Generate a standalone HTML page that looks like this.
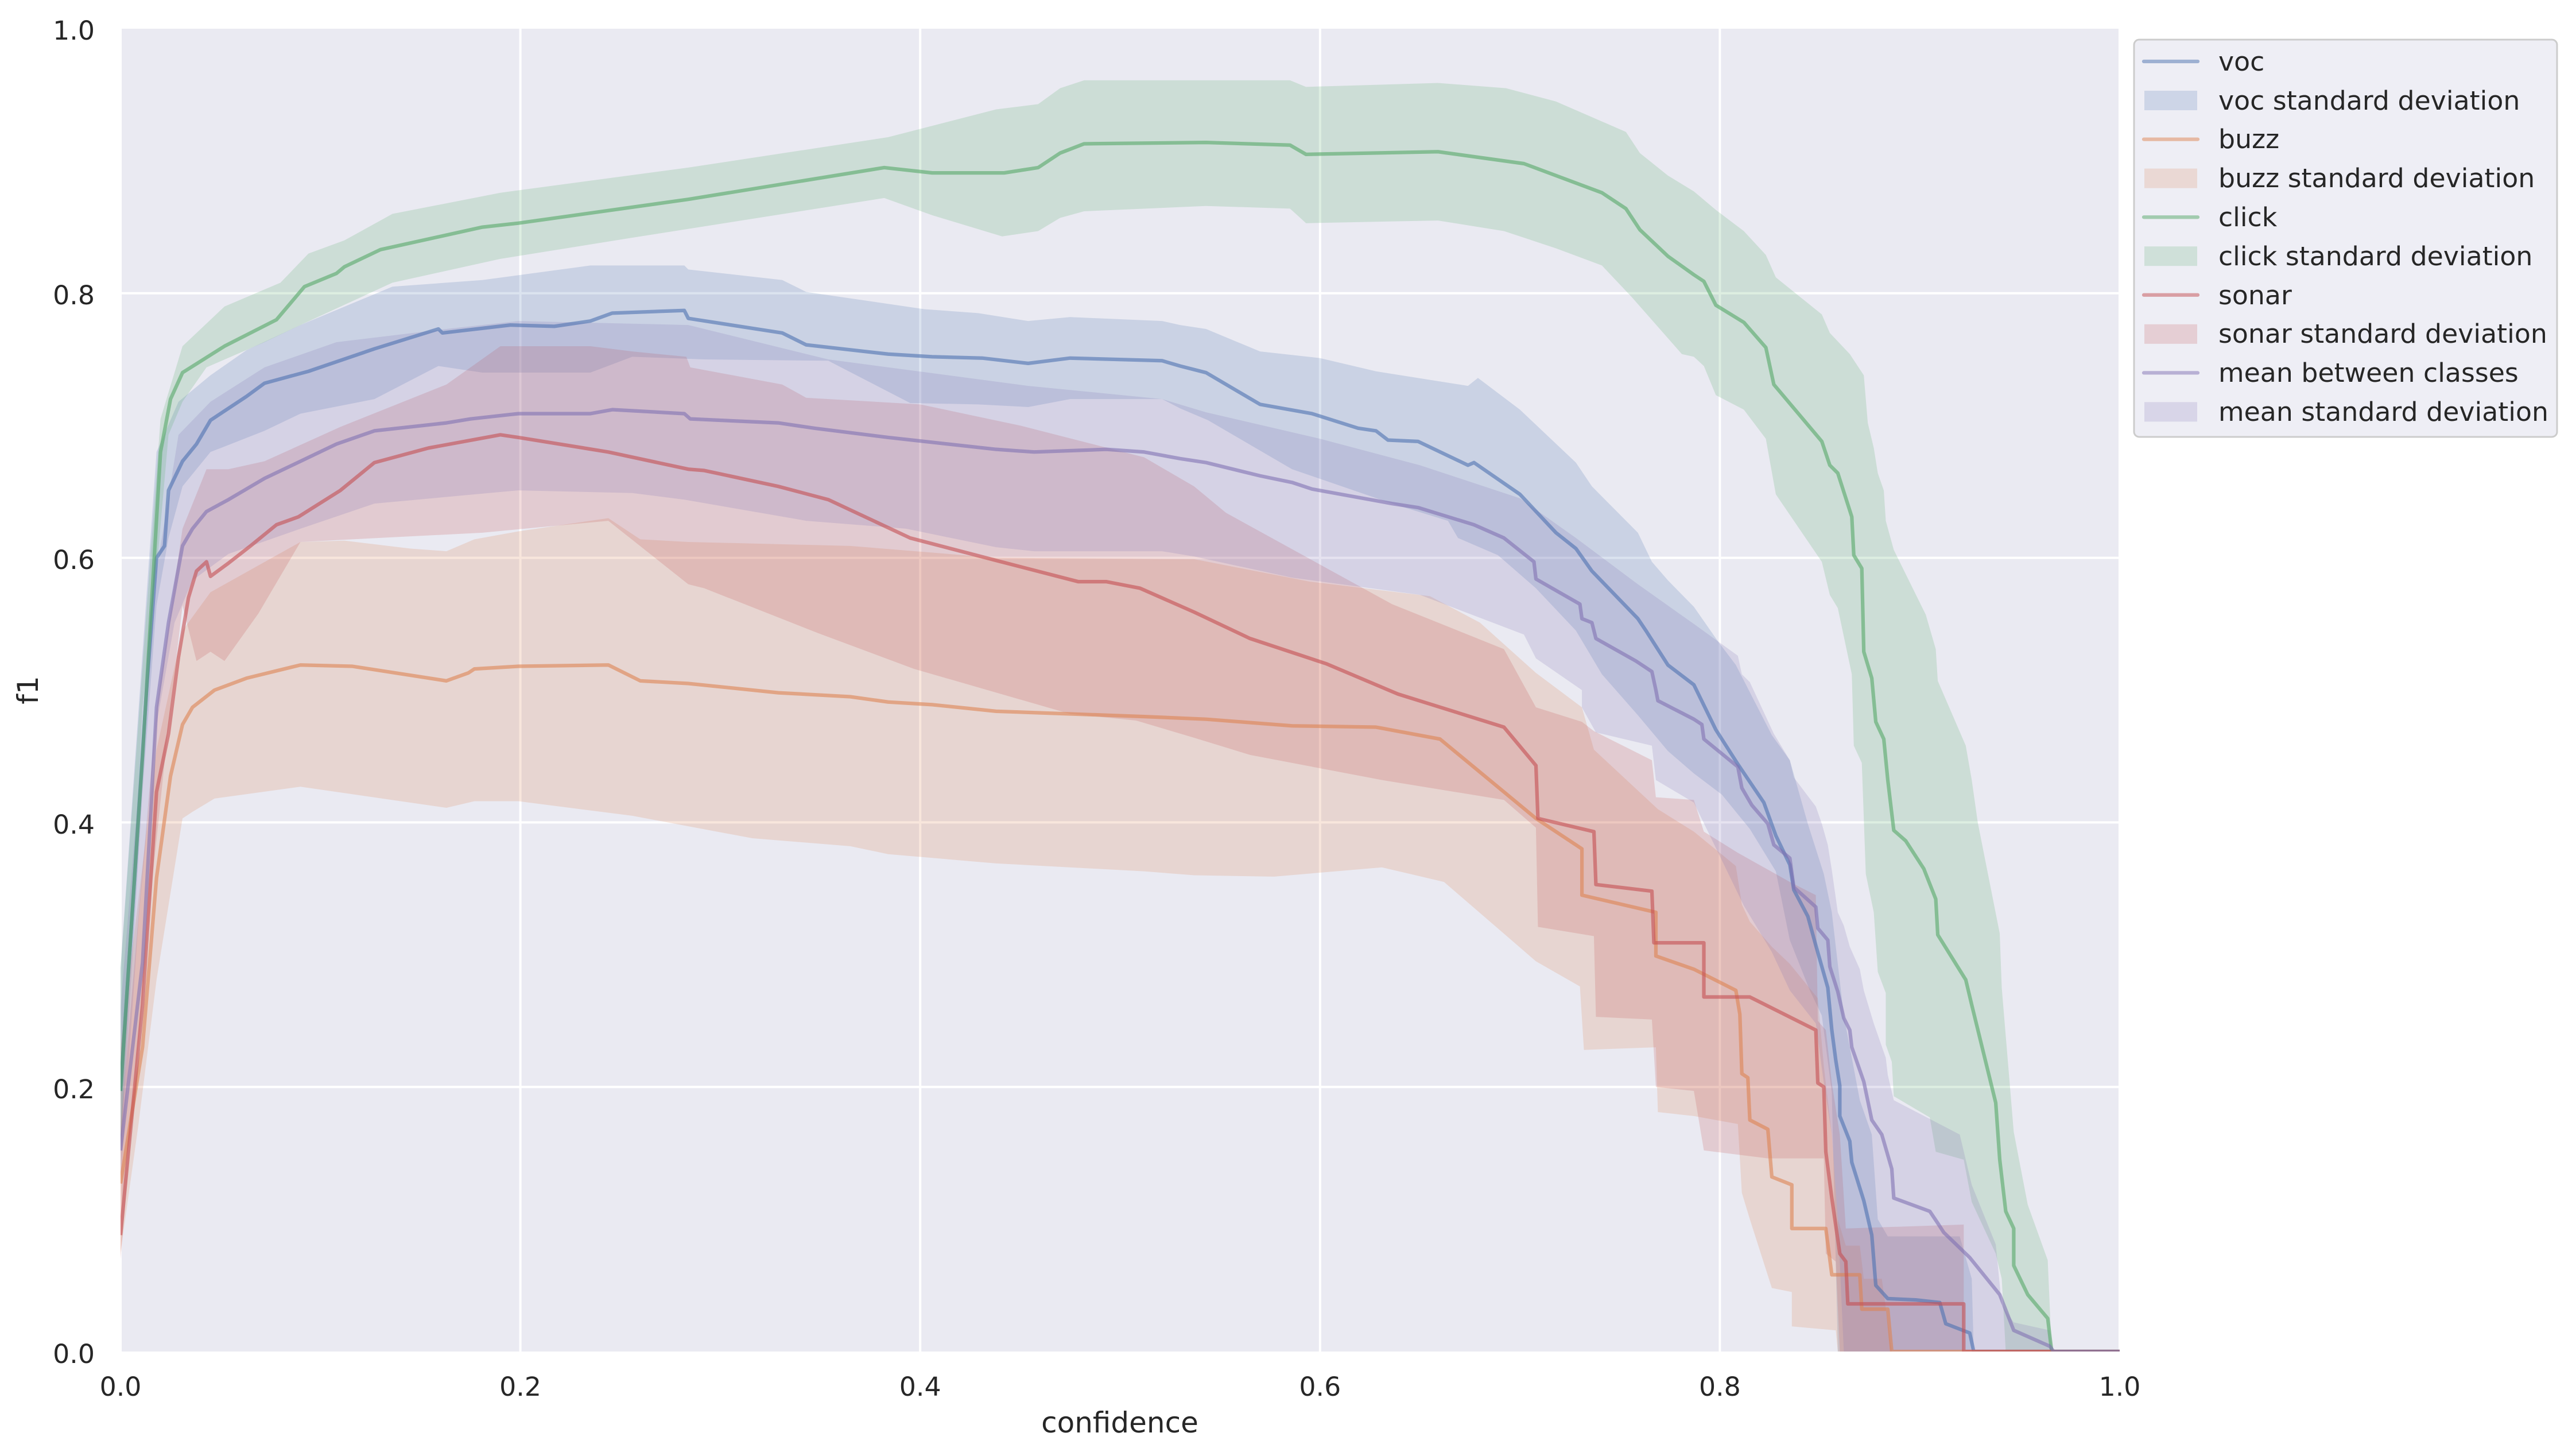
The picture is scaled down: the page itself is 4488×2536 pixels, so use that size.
<!DOCTYPE html>
<html><head><meta charset="utf-8"><style>
html,body{margin:0;padding:0;background:#fff;}
svg{display:block;}
text{font-family:"DejaVu Sans","Liberation Sans",sans-serif;fill:#262626;}
.ln{fill:none;stroke-width:6.25;stroke-opacity:0.6;stroke-linejoin:round;}
.bd{fill-opacity:0.2;stroke:none;}
</style></head><body>
<svg width="4488" height="2536" viewBox="0 0 4488 2536" xmlns="http://www.w3.org/2000/svg">
<defs><clipPath id="c"><rect x="210" y="50" width="3483" height="2304"/></clipPath></defs>
<rect x="210" y="50" width="3483" height="2304" fill="#EAEAF2"/>
<g stroke="#fff" stroke-width="4">
<line x1="210" y1="50" x2="210" y2="2354"/><line x1="906.6" y1="50" x2="906.6" y2="2354"/><line x1="1603.2" y1="50" x2="1603.2" y2="2354"/><line x1="2299.8" y1="50" x2="2299.8" y2="2354"/><line x1="2996.4" y1="50" x2="2996.4" y2="2354"/><line x1="3693" y1="50" x2="3693" y2="2354"/>
<line x1="210" y1="1893.2" x2="3693" y2="1893.2"/><line x1="210" y1="1432.4" x2="3693" y2="1432.4"/><line x1="210" y1="971.6" x2="3693" y2="971.6"/><line x1="210" y1="510.8" x2="3693" y2="510.8"/>
</g>
<g clip-path="url(#c)">
<g transform="matrix(3483 0 0 -2304 210 2354)">
<path class="bd" fill="#4C72B0" d="M0,.29 L.018,.68 .029,.718 .045,.738 .063,.757 .09,.776 .136,.805 .181,.81 .235,.821 .282,.821 .284,.818 .331,.81 .343,.801 .402,.788 .429,.785 .454,.779 .475,.782 .521,.779 .53,.776 .543,.773 .57,.756 .6,.751 .628,.741 .674,.73 .679,.736 .7,.712 .728,.672 .736,.654 .759,.619 .766,.597 .774,.583 .787,.563 .799,.537 .808,.519 .826,.466 .835,.447 .844,.399 .848,.38 .852,.361 .856,.332 .859,.293 .862,.254 .87,.19 .876,.164 .879,.1 .884,.087 .92,.087 .926,.055 .927,0 .859,0 .856,.196 .851,.254 .845,.273 .835,.311 .828,.363 .815,.395 .801,.421 .787,.437 .774,.454 .759,.481 .741,.512 .728,.545 .708,.577 .689,.602 .669,.615 .664,.628 .636,.641 .586,.667 .544,.704 .53,.713 .521,.72 .475,.72 .454,.714 .429,.716 .395,.717 .354,.749 .292,.75 .256,.752 .235,.74 .181,.74 .159,.745 .127,.72 .09,.709 .072,.696 .045,.68 .031,.654 .024,.615 .018,.564 .011,.423 0,.15Z"/>
<path class="bd" fill="#DD8452" d="M0,.23 L.018,.455 .031,.545 .045,.574 .09,.612 .112,.613 .145,.607 .163,.605 .177,.614 .199,.62 .244,.63 .26,.614 .284,.612 .365,.609 .438,.6 .537,.599 .595,.582 .655,.571 .68,.551 .708,.513 .731,.487 .737,.455 .769,.41 .787,.393 .808,.367 .811,.338 .815,.325 .826,.306 .835,.293 .849,.267 .852,.216 .856,.164 .859,.1 .863,.08 .87,.08 .872,.055 .881,.055 .886,0 .859,0 .858,.016 .836,.019 .836,.045 .826,.048 .815,.1 .811,.12 .809,.172 .787,.178 .769,.181 .768,.23 .732,.228 .73,.276 .708,.295 .662,.355 .631,.366 .577,.359 .537,.36 .512,.363 .438,.369 .384,.376 .365,.382 .316,.388 .256,.405 .199,.416 .177,.416 .163,.411 .09,.427 .047,.418 .036,.408 .031,.403 .018,.281 .009,.172 0,.075Z"/>
<path class="bd" fill="#55A868" d="M0,.29 L.02,.705 .031,.76 .052,.79 .08,.808 .094,.83 .112,.84 .136,.86 .19,.876 .284,.895 .384,.918 .438,.939 .459,.943 .47,.955 .482,.961 .585,.961 .593,.956 .659,.959 .693,.955 .718,.945 .753,.922 .76,.906 .774,.889 .787,.877 .798,.863 .812,.847 .823,.829 .828,.812 .851,.784 .855,.77 .865,.754 .872,.738 .874,.702 .877,.683 .879,.664 .882,.651 .883,.628 .887,.606 .903,.557 .908,.531 .909,.507 .923,.458 .926,.432 .929,.4 .94,.316 .941,.275 .947,.166 .954,.111 .964,.069 .966,0 .943,0 .941,.055 .938,.074 .926,.113 .922,.145 .908,.151 .905,.177 .887,.193 .886,.219 .883,.232 .883,.271 .879,.287 .877,.332 .873,.361 .871,.445 .867,.458 .866,.512 .859,.562 .855,.572 .851,.597 .828,.648 .823,.69 .812,.712 .798,.723 .792,.745 .787,.752 .781,.754 .756,.797 .741,.821 .718,.834 .692,.847 .659,.855 .593,.853 .585,.864 .543,.866 .482,.862 .47,.857 .459,.847 .441,.843 .406,.859 .382,.872 .256,.842 .19,.826 .136,.808 .09,.776 .072,.763 .043,.744 .031,.718 .024,.693 .018,.59 .011,.487 0,.15Z"/>
<path class="bd" fill="#C44E52" d="M0,.17 L.018,.487 .031,.622 .043,.667 .054,.667 .072,.673 .11,.699 .163,.731 .19,.76 .235,.76 .256,.756 .283,.752 .285,.744 .331,.731 .343,.721 .4,.716 .45,.7 .512,.676 .537,.654 .553,.634 .636,.565 .692,.531 .708,.487 .731,.476 .737,.469 .766,.447 .768,.419 .787,.417 .792,.393 .809,.377 .835,.355 .848,.345 .849,.25 .853,.243 .856,.203 .86,.164 .863,.093 .922,.096 .922,0 .86,0 .858,.068 .853,.074 .852,.146 .824,.146 .792,.152 .787,.197 .768,.2 .766,.251 .738,.253 .737,.314 .709,.321 .708,.396 .692,.417 .631,.432 .565,.451 .537,.464 .508,.477 .475,.482 .397,.516 .349,.543 .292,.577 .284,.58 .244,.628 .181,.619 .09,.612 .069,.558 .052,.522 .045,.529 .038,.522 .031,.564 .024,.474 .016,.358 .009,.23 0,.07Z"/>
<path class="bd" fill="#8172B3" d="M0,.26 L.018,.59 .029,.693 .045,.718 .072,.744 .108,.763 .163,.773 .199,.779 .284,.776 .354,.75 .454,.73 .521,.72 .543,.71 .6,.69 .65,.67 .7,.645 .728,.615 .759,.58 .787,.55 .809,.526 .811,.512 .815,.506 .827,.467 .835,.447 .837,.434 .848,.412 .851,.399 .854,.383 .856,.364 .859,.332 .862,.322 .865,.306 .87,.289 .872,.273 .877,.248 .883,.222 .884,.209 .887,.19 .92,.164 .926,.126 .938,.081 .941,.035 .947,.022 .965,.016 .967,0 .862,0 .859,.1 .856,.164 .852,.203 .848,.248 .835,.273 .826,.302 .812,.337 .787,.415 .768,.432 .766,.458 .738,.468 .731,.487 .731,.5 .708,.524 .702,.542 .65,.572 .586,.585 .537,.601 .521,.605 .457,.605 .438,.608 .393,.622 .343,.628 .282,.644 .256,.649 .199,.651 .127,.641 .09,.622 .054,.603 .036,.583 .027,.551 .018,.474 .009,.326 0,.13Z"/>
<path class="ln" vector-effect="non-scaling-stroke" stroke="#4C72B0" d="M0,.197 L.007,.358 .013,.5 .018,.6 .022,.609 .024,.651 .031,.673 .038,.686 .045,.704 .063,.722 .072,.732 .094,.741 .127,.758 .159,.773 .161,.77 .195,.776 .217,.775 .235,.779 .246,.785 .282,.787 .284,.781 .331,.77 .343,.761 .384,.754 .406,.752 .431,.751 .454,.747 .475,.751 .521,.749 .53,.745 .543,.74 .57,.716 .596,.709 .619,.698 .628,.696 .634,.689 .649,.688 .674,.67 .677,.672 .7,.648 .718,.619 .728,.607 .736,.59 .759,.554 .763,.545 .774,.519 .787,.504 .798,.47 .809,.444 .822,.415 .828,.39 .835,.368 .837,.349 .844,.329 .848,.307 .854,.275 .856,.243 .858,.22 .86,.201 .86,.178 .865,.159 .866,.143 .872,.114 .876,.088 .878,.05 .884,.04 .898,.039 .91,.037 .913,.021 .925,.014 .927,0 1,0"/>
<path class="ln" vector-effect="non-scaling-stroke" stroke="#DD8452" d="M0,.127 L.011,.23 .018,.358 .025,.435 .031,.474 .036,.487 .047,.5 .063,.509 .09,.519 .116,.518 .163,.507 .174,.513 .177,.516 .199,.518 .244,.519 .26,.507 .284,.505 .329,.498 .365,.495 .384,.491 .406,.489 .438,.484 .512,.48 .543,.478 .586,.473 .628,.472 .66,.463 .708,.403 .731,.38 .731,.345 .768,.332 .768,.299 .787,.289 .808,.273 .81,.255 .811,.21 .814,.207 .815,.175 .824,.168 .826,.132 .836,.126 .836,.093 .853,.093 .856,.058 .87,.058 .871,.032 .884,.032 .886,0 1,0"/>
<path class="ln" vector-effect="non-scaling-stroke" stroke="#55A868" d="M0,.197 L.011,.45 .02,.68 .025,.72 .031,.74 .052,.76 .078,.78 .092,.805 .108,.815 .112,.82 .13,.833 .181,.85 .199,.853 .284,.871 .382,.895 .406,.891 .442,.891 .459,.895 .47,.906 .482,.913 .543,.914 .585,.912 .593,.905 .659,.907 .702,.898 .741,.876 .753,.864 .76,.848 .774,.828 .787,.814 .792,.809 .798,.791 .812,.778 .823,.759 .827,.731 .851,.688 .855,.67 .859,.664 .866,.631 .867,.602 .871,.592 .872,.529 .876,.509 .878,.476 .882,.463 .884,.432 .887,.394 .893,.386 .902,.365 .908,.342 .909,.315 .923,.281 .926,.262 .938,.188 .94,.145 .943,.106 .947,.093 .947,.065 .954,.043 .964,.025 .966,0 1,0"/>
<path class="ln" vector-effect="non-scaling-stroke" stroke="#C44E52" d="M0,.088 L.011,.262 .018,.423 .024,.467 .029,.525 .034,.57 .038,.59 .043,.597 .045,.586 .054,.596 .065,.609 .078,.625 .089,.631 .11,.651 .127,.672 .154,.683 .19,.693 .199,.691 .244,.68 .284,.667 .292,.666 .329,.654 .354,.644 .395,.615 .438,.598 .479,.582 .493,.582 .51,.577 .537,.559 .565,.539 .603,.52 .639,.497 .692,.472 .708,.443 .709,.403 .737,.393 .738,.353 .766,.348 .767,.309 .792,.309 .792,.268 .815,.268 .848,.243 .849,.203 .852,.2 .853,.151 .856,.116 .86,.074 .863,.068 .864,.036 .922,.036 .922,0 1,0"/>
<path class="ln" vector-effect="non-scaling-stroke" stroke="#8172B3" d="M0,.152 L.011,.294 .018,.487 .024,.551 .031,.609 .036,.622 .043,.635 .054,.644 .072,.66 .09,.673 .108,.686 .127,.696 .163,.702 .175,.705 .199,.709 .235,.709 .246,.712 .282,.709 .285,.705 .329,.702 .347,.698 .384,.691 .438,.682 .457,.68 .493,.682 .512,.68 .53,.675 .543,.672 .57,.662 .586,.657 .596,.652 .636,.641 .649,.638 .677,.625 .692,.615 .707,.597 .708,.584 .73,.565 .731,.554 .736,.551 .738,.539 .758,.522 .766,.514 .768,.5 .769,.492 .787,.478 .791,.474 .792,.463 .809,.442 .811,.426 .816,.413 .824,.399 .827,.383 .835,.373 .837,.351 .848,.336 .849,.32 .854,.311 .855,.291 .859,.272 .862,.252 .865,.243 .866,.23 .872,.204 .876,.175 .881,.164 .886,.138 .887,.116 .905,.106 .909,.097 .912,.09 .925,.071 .94,.043 .947,.016 .965,.004 .967,0 1,0"/>
</g>
</g>
<g font-size="45.8" text-anchor="end">
<text x="165" y="2374">0.0</text><text x="165" y="1913">0.2</text><text x="165" y="1452">0.4</text><text x="165" y="991">0.6</text><text x="165" y="530">0.8</text><text x="165" y="69">1.0</text>
</g>
<g font-size="45.8" text-anchor="middle">
<text x="210" y="2431">0.0</text><text x="906.6" y="2431">0.2</text><text x="1603.2" y="2431">0.4</text><text x="2299.8" y="2431">0.6</text><text x="2996.4" y="2431">0.8</text><text x="3693" y="2431">1.0</text>
</g>
<text x="1951" y="2495" font-size="50" text-anchor="middle">confidence</text>
<text transform="translate(66,1202) rotate(-90)" font-size="50" text-anchor="middle">f1</text>
<rect x="3718" y="69" width="737" height="692" rx="9" fill="#EAEAF2" fill-opacity="0.8" stroke="#cccccc" stroke-width="3"/>
<g stroke-width="6.25" stroke-linecap="round" stroke-opacity="0.5">
<line x1="3735" y1="107" x2="3829" y2="107" stroke="#4C72B0"/>
<line x1="3735" y1="242.6" x2="3829" y2="242.6" stroke="#DD8452"/>
<line x1="3735" y1="378.2" x2="3829" y2="378.2" stroke="#55A868"/>
<line x1="3735" y1="513.8" x2="3829" y2="513.8" stroke="#C44E52"/>
<line x1="3735" y1="649.4" x2="3829" y2="649.4" stroke="#8172B3"/>
</g>
<g fill-opacity="0.2">
<rect x="3736" y="158" width="92" height="34" fill="#4C72B0"/>
<rect x="3736" y="293.6" width="92" height="34" fill="#DD8452"/>
<rect x="3736" y="429.2" width="92" height="34" fill="#55A868"/>
<rect x="3736" y="564.8" width="92" height="34" fill="#C44E52"/>
<rect x="3736" y="700.4" width="92" height="34" fill="#8172B3"/>
</g>
<g font-size="45.8">
<text x="3865" y="123">voc</text>
<text x="3865" y="191">voc standard deviation</text>
<text x="3865" y="258">buzz</text>
<text x="3865" y="326">buzz standard deviation</text>
<text x="3865" y="394">click</text>
<text x="3865" y="462">click standard deviation</text>
<text x="3865" y="530">sonar</text>
<text x="3865" y="597">sonar standard deviation</text>
<text x="3865" y="665">mean between classes</text>
<text x="3865" y="733">mean standard deviation</text>
</g>
</svg>
</body></html>
